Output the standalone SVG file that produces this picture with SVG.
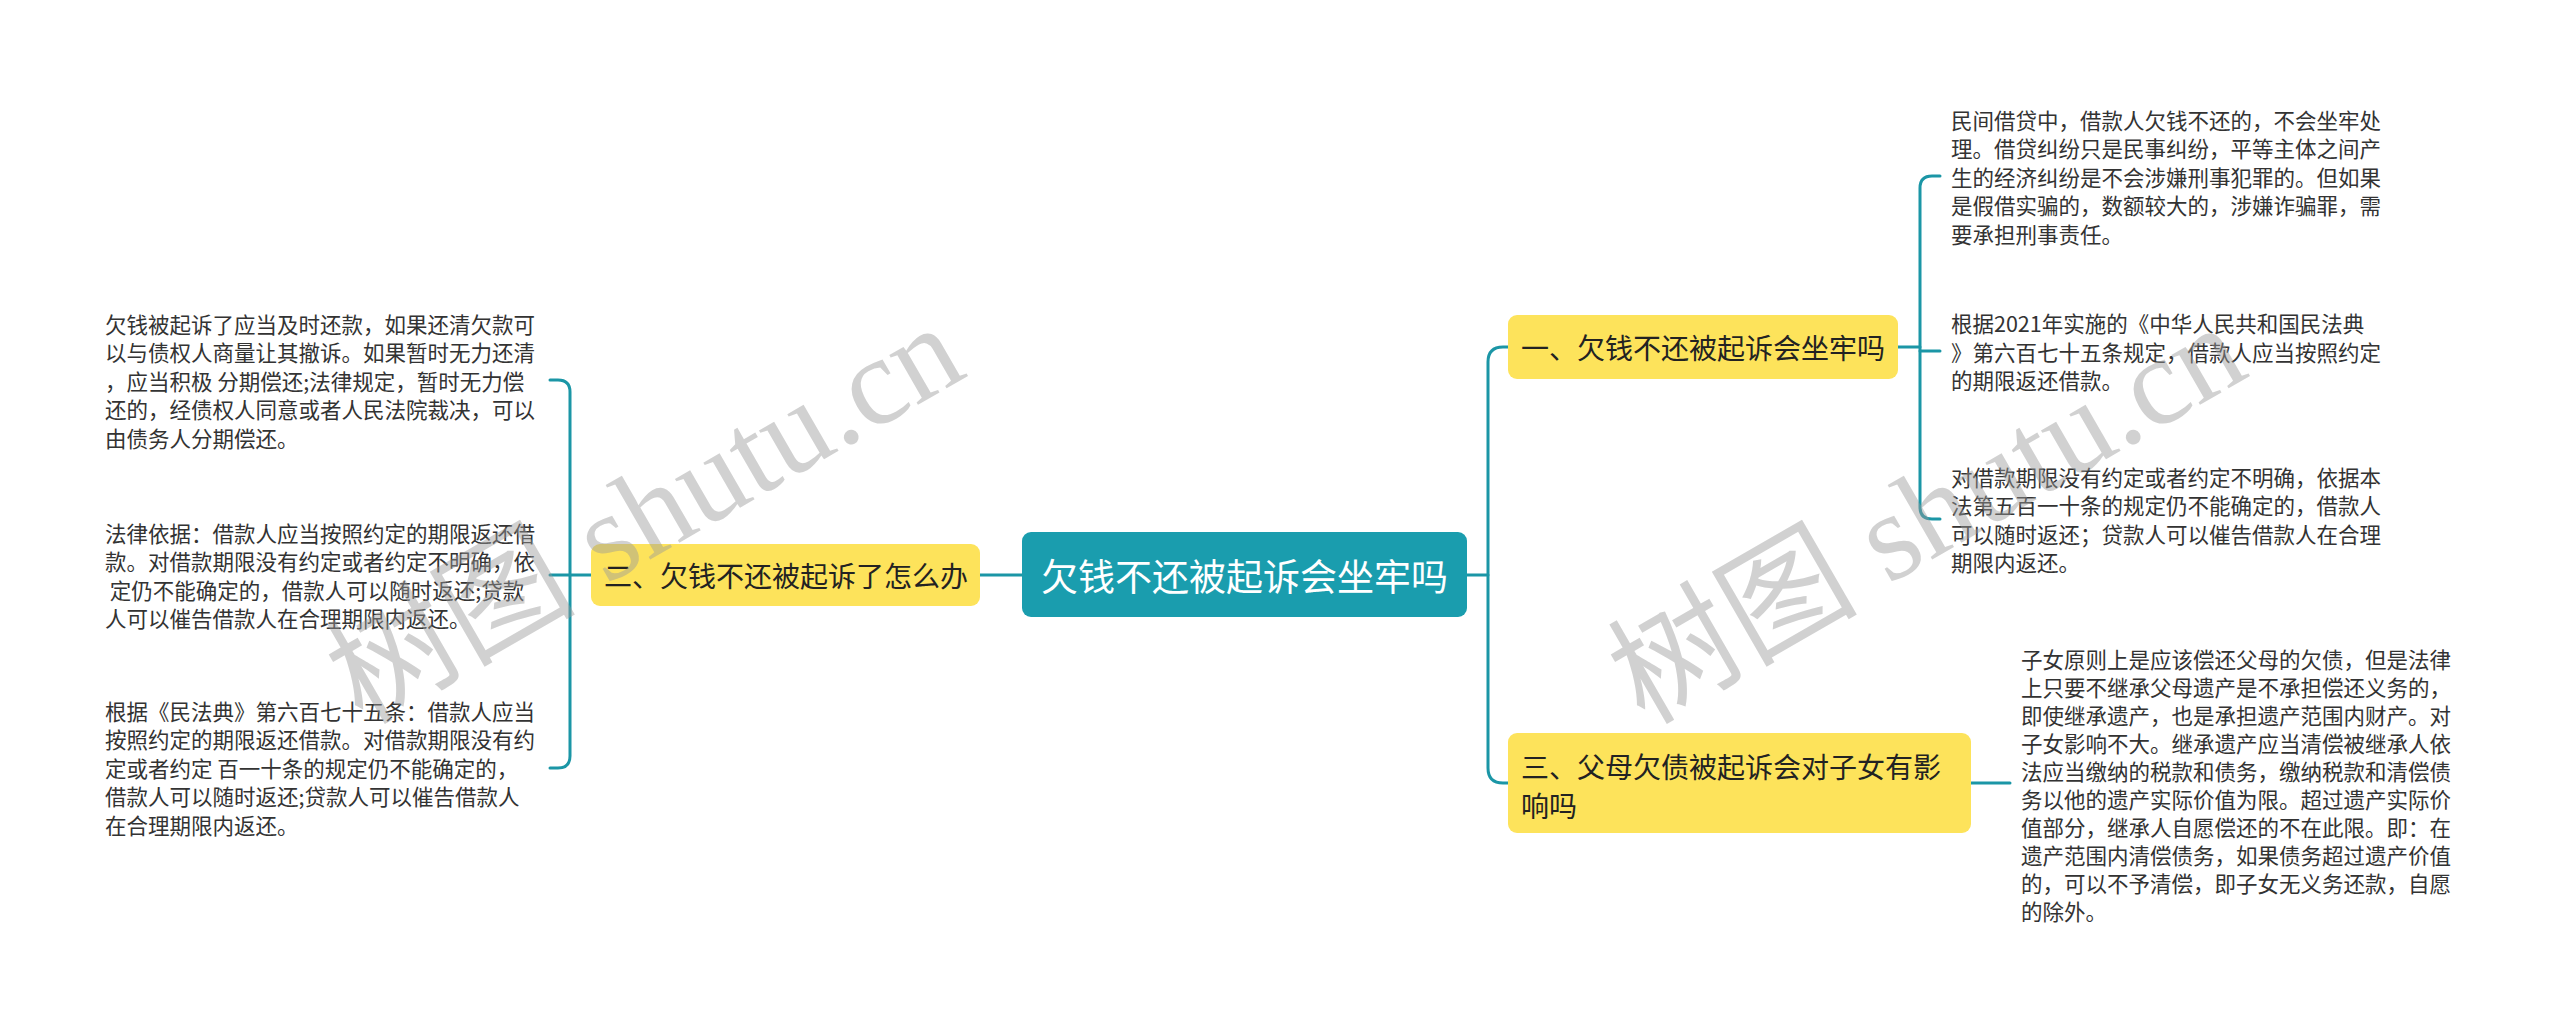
<svg xmlns="http://www.w3.org/2000/svg" width="2560" height="1027" viewBox="0 0 2560 1027">
<style>
.t{font-family:"Noto Sans CJK SC","Noto Sans",sans-serif;font-size:21.5px;fill:#333;dominant-baseline:central}
.n{font-family:"Noto Sans CJK SC","Noto Sans",sans-serif;font-size:28px;fill:#222;dominant-baseline:central}
.c{font-family:"Noto Sans CJK SC","Noto Sans",sans-serif;font-size:37px;fill:#fff;dominant-baseline:central;text-anchor:middle}
.y{fill:#FDE35B}
.l{fill:none;stroke:#1B96A6;stroke-width:3;stroke-linecap:round}
.w{font-family:"Liberation Serif","Noto Sans CJK SC",serif;font-size:125px;fill:#9a9a9a;fill-opacity:0.45;text-anchor:middle;dominant-baseline:central}
</style>
<rect width="2560" height="1027" fill="#fff"/>
<g id="connectors">
<path class="l" d="M1022 575 H980"/>
<path class="l" d="M591 575 H570"/>
<path class="l" d="M550 380 H558 Q570 380 570 392 V756 Q570 768 558 768 H550"/>
<path class="l" d="M550 575 H570"/>
<path class="l" d="M1467 575 H1488"/>
<path class="l" d="M1509 347 H1503 Q1488 347 1488 362 V768 Q1488 783 1503 783 H1509"/>
<path class="l" d="M1898 347 H1920"/>
<path class="l" d="M1940 176 H1932 Q1920 176 1920 188 V507 Q1920 519 1932 519 H1940"/>
<path class="l" d="M1920 351 H1940"/>
<path class="l" d="M1971 783 H2010"/>
</g>
<g id="root">
<rect x="1022" y="532" width="445" height="85" rx="9" fill="#1A9DAE"/>
<text class="c" x="1244.5" y="575">欠钱不还被起诉会坐牢吗</text>
</g>
<g id="node-left">
<rect class="y" x="591" y="544" width="389" height="62" rx="9"/>
<text class="n" x="604" y="575">二、欠钱不还被起诉了怎么办</text>
</g>
<g id="node-right1">
<rect class="y" x="1508" y="315" width="390" height="64" rx="9"/>
<text class="n" x="1521" y="347">一、欠钱不还被起诉会坐牢吗</text>
</g>
<g id="node-right3">
<rect class="y" x="1508" y="733" width="463" height="100" rx="9"/>
<text class="n" x="1521" y="766">三、父母欠债被起诉会对子女有影</text>
<text class="n" x="1521" y="805">响吗</text>
</g>
<g id="leaf-l1">
<text class="t" x="105" y="323">欠钱被起诉了应当及时还款，如果还清欠款可</text>
<text class="t" x="105" y="351.5">以与债权人商量让其撤诉。如果暂时无力还清</text>
<text class="t" x="105" y="380" xml:space="preserve">，应当积极 分期偿还;法律规定，暂时无力偿</text>
<text class="t" x="105" y="408.5">还的，经债权人同意或者人民法院裁决，可以</text>
<text class="t" x="105" y="437">由债务人分期偿还。</text>
</g>
<g id="leaf-l2">
<text class="t" x="105" y="532">法律依据：借款人应当按照约定的期限返还借</text>
<text class="t" x="105" y="560.5">款。对借款期限没有约定或者约定不明确，依</text>
<text class="t" x="105" y="589" xml:space="preserve"> 定仍不能确定的，借款人可以随时返还;贷款</text>
<text class="t" x="105" y="617.5">人可以催告借款人在合理期限内返还。</text>
</g>
<g id="leaf-l3">
<text class="t" x="105" y="710">根据《民法典》第六百七十五条：借款人应当</text>
<text class="t" x="105" y="738.5">按照约定的期限返还借款。对借款期限没有约</text>
<text class="t" x="105" y="767" xml:space="preserve">定或者约定 百一十条的规定仍不能确定的，</text>
<text class="t" x="105" y="795.5">借款人可以随时返还;贷款人可以催告借款人</text>
<text class="t" x="105" y="824">在合理期限内返还。</text>
</g>
<g id="leaf-r1">
<text class="t" x="1951" y="119">民间借贷中，借款人欠钱不还的，不会坐牢处</text>
<text class="t" x="1951" y="147.5">理。借贷纠纷只是民事纠纷，平等主体之间产</text>
<text class="t" x="1951" y="176">生的经济纠纷是不会涉嫌刑事犯罪的。但如果</text>
<text class="t" x="1951" y="204.5">是假借实骗的，数额较大的，涉嫌诈骗罪，需</text>
<text class="t" x="1951" y="233">要承担刑事责任。</text>
</g>
<g id="leaf-r2">
<text class="t" x="1951" y="322.5">根据2021年实施的《中华人民共和国民法典</text>
<text class="t" x="1951" y="351">》第六百七十五条规定，借款人应当按照约定</text>
<text class="t" x="1951" y="379.5">的期限返还借款。</text>
</g>
<g id="leaf-r3">
<text class="t" x="1951" y="476">对借款期限没有约定或者约定不明确，依据本</text>
<text class="t" x="1951" y="504.5">法第五百一十条的规定仍不能确定的，借款人</text>
<text class="t" x="1951" y="533">可以随时返还；贷款人可以催告借款人在合理</text>
<text class="t" x="1951" y="561.5">期限内返还。</text>
</g>
<g id="leaf-r4">
<text class="t" x="2021" y="658">子女原则上是应该偿还父母的欠债，但是法律</text>
<text class="t" x="2021" y="686.1">上只要不继承父母遗产是不承担偿还义务的，</text>
<text class="t" x="2021" y="714.2">即使继承遗产，也是承担遗产范围内财产。对</text>
<text class="t" x="2021" y="742.3">子女影响不大。继承遗产应当清偿被继承人依</text>
<text class="t" x="2021" y="770.4">法应当缴纳的税款和债务，缴纳税款和清偿债</text>
<text class="t" x="2021" y="798.5">务以他的遗产实际价值为限。超过遗产实际价</text>
<text class="t" x="2021" y="826.6">值部分，继承人自愿偿还的不在此限。即：在</text>
<text class="t" x="2021" y="854.7">遗产范围内清偿债务，如果债务超过遗产价值</text>
<text class="t" x="2021" y="882.8">的，可以不予清偿，即子女无义务还款，自愿</text>
<text class="t" x="2021" y="910.9">的除外。</text>
</g>
<g id="watermarks">
<text class="w" transform="translate(645 514) rotate(-30)">树图 shutu.cn</text>
<text class="w" transform="translate(1927 514) rotate(-30)">树图 shutu.cn</text>
</g>
</svg>
